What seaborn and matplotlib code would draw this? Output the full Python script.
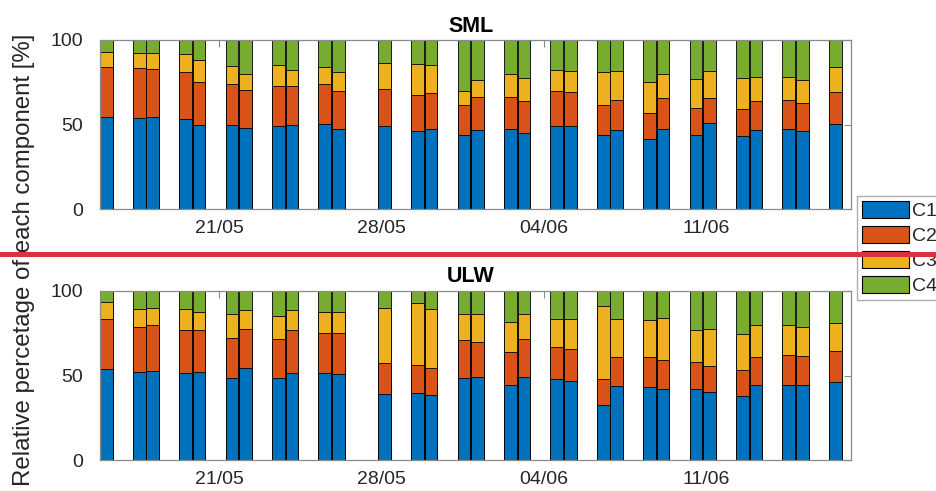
import numpy as np
import pandas as pd
import matplotlib
matplotlib.use("Agg")
import matplotlib.pyplot as plt
import seaborn as sns
from matplotlib.patches import Patch
from matplotlib.lines import Line2D

# ---------------- data ----------------
# sample positions, expressed as day of May (June 1 = 32)
sample_day = [16.14, 17.56, 18.14, 19.56, 20.14, 21.56, 22.14, 23.56, 24.14,
              25.56, 26.14, 28.14, 29.56, 30.14, 31.56, 32.14, 33.56, 34.14,
              35.56, 36.14, 37.56, 38.14, 39.56, 40.14, 41.56, 42.14, 43.56,
              44.14, 45.56, 46.14, 47.56]

components = ["C1", "C2", "C3", "C4"]
sites = ["SML", "ULW"]

sml_c1 = [54.2, 53.8, 54.2, 53.5, 49.7, 49.7, 48.1, 49.1, 49.5, 50.1, 47.5, 48.9,
          46.0, 47.1, 43.6, 46.5, 47.1, 44.8, 48.9, 48.9, 43.6, 46.5, 41.2, 47.1,
          43.6, 50.7, 43.2, 46.5, 47.1, 46.0, 50.1]
sml_c2 = [29.6, 29.4, 28.4, 27.4, 25.3, 24.1, 22.3, 23.5, 23.1, 23.7, 22.1, 22.1,
          21.3, 21.3, 17.7, 19.8, 19.2, 18.9, 20.7, 20.1, 17.7, 18.2, 15.4, 18.6,
          16.0, 15.0, 16.0, 17.2, 17.6, 16.5, 18.9]
sml_c3 = [9.1, 9.3, 9.9, 10.6, 13.2, 10.6, 9.3, 12.4, 9.6, 10.0, 11.3, 15.2,
          18.3, 16.6, 8.5, 10.0, 13.4, 13.6, 12.6, 12.7, 19.6, 17.0, 18.7, 14.0,
          17.3, 16.2, 18.1, 14.2, 13.2, 13.8, 14.8]
sml_c4 = [7.1, 7.5, 7.5, 8.5, 11.8, 15.6, 20.3, 15.0, 17.8, 16.2, 19.1, 13.8,
          14.4, 15.0, 30.2, 23.7, 20.3, 22.7, 17.8, 18.3, 19.1, 18.3, 24.7, 20.3,
          23.1, 18.1, 22.7, 22.1, 22.1, 23.7, 16.2]

ulw_c1 = [53.6, 51.9, 52.5, 51.3, 51.9, 48.3, 54.2, 48.3, 51.3, 51.3, 50.7, 39.3,
          39.5, 38.3, 48.3, 48.9, 44.2, 49.3, 47.7, 46.8, 32.4, 43.6, 43.0, 41.8,
          41.8, 40.1, 37.7, 44.2, 44.6, 44.6, 46.0]
ulw_c2 = [29.7, 26.7, 27.3, 25.3, 24.7, 24.0, 23.0, 23.0, 25.3, 23.6, 24.2, 18.1,
          16.7, 15.9, 22.4, 20.8, 19.7, 22.0, 19.3, 18.6, 15.3, 17.5, 17.7, 17.1,
          16.2, 15.3, 15.5, 16.5, 17.5, 17.1, 18.4]
ulw_c3 = [9.8, 10.4, 10.0, 12.4, 10.6, 13.8, 11.2, 13.8, 11.8, 12.3, 12.3, 32.4,
          36.3, 34.8, 15.5, 16.4, 17.4, 14.8, 16.1, 18.1, 43.3, 22.0, 21.8, 25.2,
          18.6, 21.8, 21.3, 19.1, 17.7, 17.1, 16.3]
ulw_c4 = [6.9, 11.0, 10.2, 11.0, 12.8, 13.9, 11.6, 14.9, 11.6, 12.8, 12.8, 10.2,
          7.5, 11.0, 13.8, 13.9, 18.7, 13.9, 16.9, 16.5, 9.0, 16.9, 17.5, 15.9,
          23.4, 22.8, 25.5, 20.2, 20.2, 21.2, 19.3]

tick_days = [21, 28, 35, 42]
tick_labels = ["21/05", "28/05", "04/06", "11/06"]

colors = ["#0072BD", "#D95319", "#EDB120", "#77AC30"]

# ---------------- table ----------------
rows = []
for site, series in zip(sites, [[sml_c1, sml_c2, sml_c3, sml_c4],
                                [ulw_c1, ulw_c2, ulw_c3, ulw_c4]]):
    for comp, vals in zip(components, series):
        for d, v in zip(sample_day, vals):
            rows.append({"site": site, "day": d, "comp": comp, "value": v})
df = pd.DataFrame(rows)
df["cum"] = df.groupby(["site", "day"])["value"].cumsum()

# ---------------- figure ----------------
sns.set_theme(style="white")
plt.rcParams["font.family"] = ["Liberation Sans", "DejaVu Sans"]

fig = plt.figure(figsize=(9.36, 4.91), dpi=100)
ax_top = fig.add_axes([100 / 936, 1 - 209 / 491, 751 / 936, 169 / 491])
ax_bot = fig.add_axes([100 / 936, 1 - 460.3 / 491, 751 / 936, 169.6 / 491])

text_col = "#262626"
axis_col = "#8a8a8a"

for ax, site in zip([ax_top, ax_bot], sites):
    sub = df[df["site"] == site]
    for comp, col in reversed(list(zip(components, colors))):
        part = sub[sub["comp"] == comp]
        sns.barplot(data=part, x="day", y="cum", native_scale=True, width=0.943,
                    color=col, saturation=1, edgecolor="black", linewidth=0.6,
                    errorbar=None, ax=ax)
    ax.set_xlim(15.87, 48.24)
    ax.set_ylim(0, 100)
    ax.set_yticks([0, 50, 100])
    ax.set_xticks(tick_days)
    ax.set_xticklabels(tick_labels)
    ax.set_xlabel("")
    ax.set_ylabel("")
    ax.tick_params(axis="both", direction="in", length=5, width=0.8,
                   color=axis_col, labelcolor=text_col, labelsize=14,
                   top=True, right=True)
    ax.tick_params(axis="x", pad=8)
    ax.tick_params(axis="y", pad=12)
    for sp in ax.spines.values():
        sp.set_visible(True)
        sp.set_color(axis_col)
        sp.set_linewidth(0.9)
    ax.set_title(site, fontsize=15.5, fontweight="bold", color="black",
                 pad=6, x=0.494)

fig.text(24.5 / 936, 1 - 259.5 / 491, "Relative percetage of each component [%]",
         rotation=90, ha="center", va="center", fontsize=17.3, color=text_col)

handles = [Patch(facecolor=c, edgecolor="black", linewidth=0.8, label=l)
           for c, l in zip(colors, components)]
leg = fig.legend(handles=handles, loc="upper left",
                 bbox_to_anchor=(857 / 936, 1 - 196 / 491),
                 fontsize=14, frameon=True, fancybox=False,
                 handlelength=2.42, handleheight=0.98, handletextpad=0.15,
                 labelspacing=0.3, borderpad=0.25, borderaxespad=0)
leg.get_frame().set_edgecolor("#9a9a9a")
leg.get_frame().set_linewidth(1.0)
for t in leg.get_texts():
    t.set_color(text_col)

fig.add_artist(Line2D([0, 1], [1 - 254.5 / 491, 1 - 254.5 / 491],
                      transform=fig.transFigure, color="#D8333B",
                      linewidth=3.6, zorder=100))

fig.savefig("out.png", dpi=100)
